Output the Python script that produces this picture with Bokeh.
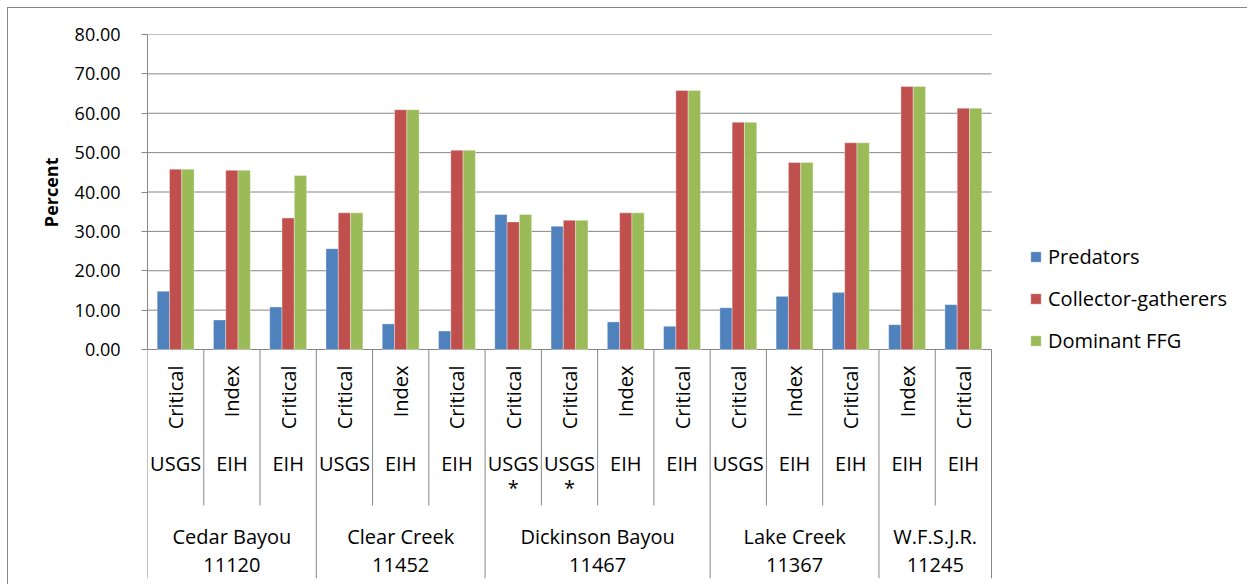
import math
from bokeh.plotting import figure
from bokeh.models import (Range1d, LinearAxis, FixedTicker, NumeralTickFormatter,
                          Legend, LegendItem, Title)
from bokeh.core.properties import value
from bokeh.embed import file_html
from bokeh.resources import INLINE

# ---------------- data ----------------
types = ["Critical", "Index", "Critical", "Critical", "Index", "Critical",
         "Critical", "Critical", "Index", "Critical", "Critical", "Index",
         "Critical", "Index", "Critical"]
sources = ["USGS", "EIH", "EIH", "USGS", "EIH", "EIH", "USGS", "USGS", "EIH",
           "EIH", "USGS", "EIH", "EIH", "EIH", "EIH"]
marks = ["", "", "", "", "", "", "*", "*", "", "", "", "", "", "", ""]
group_names = ["Cedar Bayou", "Clear Creek", "Dickinson Bayou", "Lake Creek", "W.F.S.J.R."]
group_ids = ["11120", "11452", "11467", "11367", "11245"]
group_sizes = [3, 3, 4, 3, 2]

predators = [14.8, 7.5, 10.8, 25.6, 6.5, 4.7, 34.3, 31.3, 7.0, 5.9, 10.6, 13.5, 14.5, 6.3, 11.4]
collectors = [45.8, 45.5, 33.4, 34.7, 60.9, 50.6, 32.4, 32.8, 34.7, 65.8, 57.7, 47.5, 52.5, 66.8, 61.3]
dominant = [45.8, 45.5, 44.2, 34.7, 60.9, 50.6, 34.3, 32.8, 34.7, 65.8, 57.7, 47.5, 52.5, 66.8, 61.3]
series_names = ["Predators", "Collector-gatherers", "Dominant FFG"]
y_ticks = [0, 10, 20, 30, 40, 50, 60, 70, 80]

# ---------------- layout constants (page pixels) ----------------
N = len(types)
ORIGIN = 8                         # content starts here (7px margin + 1px border)
FIG_W, FIG_H = 1240, 577
FRAME_L, FRAME_T, FRAME_B = 147, 34, 578
FIG_R = ORIGIN + FIG_W
ZERO_Y = 349
PX = (991 - FRAME_L) / N          # pixels per category
PY = (ZERO_Y - FRAME_T) / 80.0    # pixels per percent


def ypage(py):
    return (ZERO_Y - py) / PY


FONT = value("Open Sans")
FS = value("20px")
GRID = "#868686"
COLORS = ["#4F81BD", "#C0504D", "#9BBB59"]

p = figure(width=FIG_W, height=FIG_H,
           x_range=Range1d(0, (FIG_R - FRAME_L) / PX),
           y_range=Range1d(ypage(FRAME_B), 80),
           output_backend="svg", toolbar_location=None,
           x_axis_location=None, y_axis_location=None,
           min_border_left=FRAME_L - ORIGIN, min_border_top=FRAME_T - ORIGIN,
           min_border_right=0, min_border_bottom=ORIGIN + FIG_H - FRAME_B)
p.outline_line_color = None
p.grid.visible = False
p.background_fill_color = "white"
p.border_fill_color = "white"

yaxis = LinearAxis(ticker=FixedTicker(ticks=y_ticks), bounds=(0, 80),
                   formatter=NumeralTickFormatter(format="0.00"),
                   axis_line_color=GRID, major_tick_out=6, major_tick_in=0,
                   major_tick_line_color=GRID, minor_tick_line_color=None,
                   major_label_standoff=21,
                   major_label_text_font="Open Sans",
                   major_label_text_font_size="18px",
                   major_label_text_color="black")
p.add_layout(yaxis, "left")

# y axis title, placed beside the 0-80 part of the axis
p.add_layout(Title(text="Percent", align="right", offset=157 - FRAME_T,
                   text_font="Open Sans", text_font_style="bold",
                   text_font_size="18px", text_color="black", standoff=17), "left")

# horizontal gridlines (incl. the zero line)
p.segment(x0=[0] * len(y_ticks), x1=[N] * len(y_ticks), y0=y_ticks, y1=y_ticks,
          line_color=GRID, line_width=1)

# bars
bw = 12.3 / PX
centers = [i + 0.5 for i in range(N)]
renderers = []
for k, (vals, col) in enumerate(zip([predators, collectors, dominant], COLORS)):
    r = p.vbar(x=[c + (k - 1) * bw for c in centers], top=vals, width=bw,
               fill_color=col, line_color="white", line_alpha=0.35, line_width=1)
    renderers.append(r)

# separators below the axis
bounds = [0]
for s in group_sizes:
    bounds.append(bounds[-1] + s)
inner = [i for i in range(N + 1) if i not in bounds]
p.segment(x0=inner, x1=inner, y0=[0] * len(inner), y1=[ypage(505)] * len(inner),
          line_color=GRID, line_width=1)
p.segment(x0=bounds, x1=bounds, y0=[0] * len(bounds), y1=[ypage(FRAME_B)] * len(bounds),
          line_color=GRID, line_width=1)

# category labels
p.text(x=centers, y=[ypage(365)] * N, text=types, angle=math.pi / 2,
       text_align="right", text_baseline="middle", text_font=FONT,
       text_font_size=FS, text_color="black")
p.text(x=centers, y=[ypage(463)] * N, text=sources,
       text_align="center", text_baseline="middle", text_font=FONT,
       text_font_size=FS, text_color="black")
p.text(x=centers, y=[ypage(487)] * N, text=marks,
       text_align="center", text_baseline="middle", text_font=FONT,
       text_font_size=FS, text_color="black")
gcent = [(bounds[i] + bounds[i + 1]) / 2 for i in range(len(group_sizes))]
p.text(x=gcent, y=[ypage(536)] * len(gcent), text=group_names,
       text_align="center", text_baseline="middle", text_font=FONT,
       text_font_size=FS, text_color="black")
p.text(x=gcent, y=[ypage(564)] * len(gcent), text=group_ids,
       text_align="center", text_baseline="middle", text_font=FONT,
       text_font_size=FS, text_color="black")

# legend
legend = Legend(items=[LegendItem(label=n, renderers=[r]) for n, r in zip(series_names, renderers)],
                location=(1029 - FRAME_L, FRAME_B - 354),
                glyph_width=13, glyph_height=13, label_standoff=6, spacing=15,
                padding=0, margin=0, border_line_color=None, background_fill_alpha=0,
                label_text_font="Open Sans", label_text_font_size="20px",
                label_text_color="black")
p.add_layout(legend)

p.styles = {"margin-left": "7px", "margin-top": "7px",
            "border-left": "1px solid #868686", "border-top": "1px solid #868686"}

open("out.html", "w").write(file_html(p, INLINE))
